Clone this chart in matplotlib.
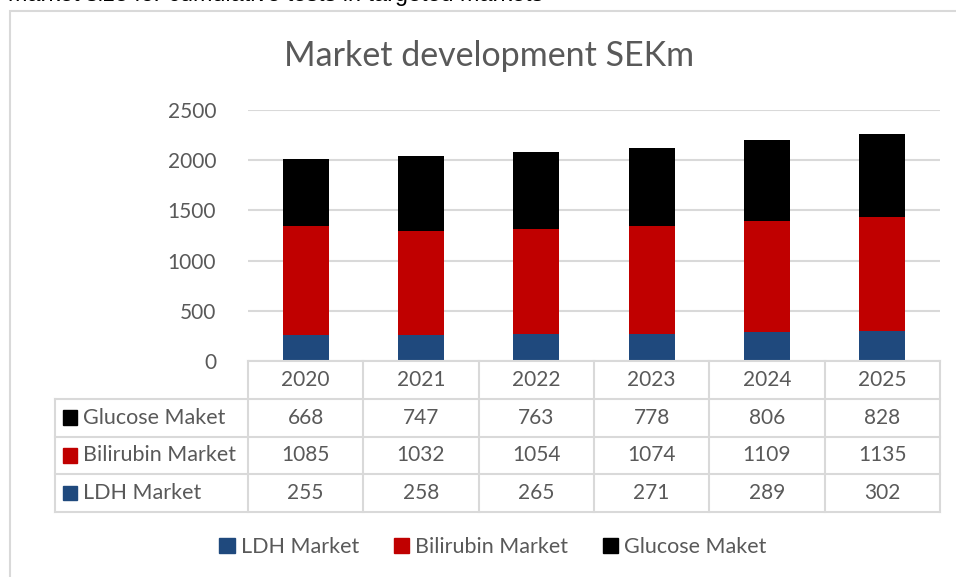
import matplotlib
matplotlib.use("Agg")
import matplotlib.pyplot as plt
from matplotlib.patches import Rectangle
from matplotlib.lines import Line2D

years = ["2020", "2021", "2022", "2023", "2024", "2025"]
ldh = [255, 258, 265, 271, 289, 302]
bilirubin = [1085, 1032, 1054, 1074, 1109, 1135]
glucose = [668, 747, 763, 778, 806, 828]
series_names = ["LDH Market", "Bilirubin Market", "Glucose Maket"]
colors = ["#1F497D", "#C00000", "#000000"]
yticks = [0, 500, 1000, 1500, 2000, 2500]
title = "Market development SEKm"
top_caption = "market size for cumulative tests in targeted markets"

TXT = "#595959"
GRID = "#D9D9D9"
FONT = ["Lato", "DejaVu Sans"]
plt.rcParams["font.family"] = FONT
FS_LBL = 15.5
FS_NUM = 15

W, H = 956, 577
fig = plt.figure(figsize=(W / 100, H / 100), dpi=100)

def fx(px):
    return px / W

def fy(py):
    return 1 - py / H

# outer chart border
fig.add_artist(Rectangle((fx(9.5), fy(600)), fx(1000), fy(10.5) - fy(600),
                         transform=fig.transFigure, fill=False,
                         edgecolor="#D9D9D9", linewidth=1.5))

# caption at top, partially cut by the image edge (as in the reference)
fig.text(fx(8), fy(1.5), top_caption, fontsize=16.8, color="#000000",
         ha="left", va="baseline", family=["Liberation Sans", "DejaVu Sans"])

# main axes
L, R, T, B = 248, 940, 110, 361
ax = fig.add_axes([fx(L), fy(B), fx(R - L), fy(T) - fy(B)])
x = list(range(len(years)))
bottom2 = [a + b for a, b in zip(ldh, bilirubin)]
ax.bar(x, ldh, width=0.4, color=colors[0], zorder=3)
ax.bar(x, bilirubin, width=0.4, bottom=ldh, color=colors[1], zorder=3)
ax.bar(x, glucose, width=0.4, bottom=bottom2, color=colors[2], zorder=3)
ax.set_xlim(-0.5, len(years) - 0.5)
ax.set_ylim(0, 2500)
ax.set_yticks(yticks)
ax.set_yticklabels([str(v) for v in yticks], fontsize=FS_NUM, color=TXT)
ax.tick_params(axis="y", length=0, pad=23)
ax.set_xticks([])
for s in ax.spines.values():
    s.set_visible(False)
ax.grid(axis="y", color=GRID, linewidth=1.5, zorder=0)
ax.set_facecolor("none")

fig.text(fx(489), fy(56), title, fontsize=24.5, color=TXT, ha="center", va="center")

# data table
TB = 512
tax = fig.add_axes([fx(L), fy(TB), fx(R - L), fy(B) - fy(TB)])
tax.set_xlim(-0.5, len(years) - 0.5)
tax.set_ylim(4, 0)
tax.axis("off")
lw = 1.5
unit = (R - L) / len(years)
left_x = -0.5 - (L - 55) / unit
# horizontal lines
tax.add_line(Line2D([-0.5, 5.5], [0, 0], color=GRID, lw=lw, clip_on=False))
for r in [1, 2, 3, 4]:
    tax.add_line(Line2D([left_x, 5.5], [r, r], color=GRID, lw=lw, clip_on=False))
# vertical lines
for c in range(len(years) + 1):
    tax.add_line(Line2D([c - 0.5, c - 0.5], [0, 4], color=GRID, lw=lw, clip_on=False))
tax.add_line(Line2D([left_x, left_x], [1, 4], color=GRID, lw=lw, clip_on=False))

for i, yr in enumerate(years):
    tax.text(i, 0.5, yr, ha="center", va="center", fontsize=FS_NUM, color=TXT)

rows = [(series_names[2], glucose, colors[2]),
        (series_names[1], bilirubin, colors[1]),
        (series_names[0], ldh, colors[0])]
for r, (name, vals, col) in enumerate(rows):
    yc = r + 1.5
    sq_x = left_x + 8 / unit
    tax.add_patch(Rectangle((sq_x, yc - 0.19), 14 / unit, 0.38, color=col,
                            clip_on=False))
    tax.text(left_x + 28 / unit, yc, name, ha="left", va="center", fontsize=FS_LBL,
             color=TXT, clip_on=False)
    for i, v in enumerate(vals):
        tax.text(i, yc, str(v), ha="center", va="center", fontsize=FS_NUM, color=TXT)

# legend
handles = [Rectangle((0, 0), 1, 1, color=c) for c in colors]
fig.legend(handles, series_names, loc="center", bbox_to_anchor=(fx(493), fy(547)),
           ncol=3, frameon=False, fontsize=FS_LBL, handlelength=0.7, handleheight=0.7,
           handletextpad=0.3, columnspacing=1.6, labelcolor=TXT)

fig.savefig("out.png", dpi=100)
